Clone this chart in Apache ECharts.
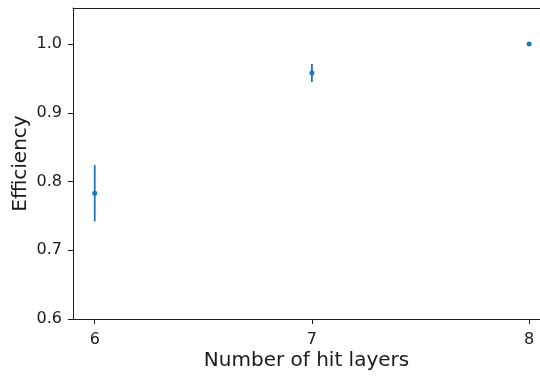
<!DOCTYPE html>
<html><head><meta charset="utf-8">
<script src="https://cdn.jsdelivr.net/npm/echarts@6/dist/echarts.min.js"></script>
<style>html,body{margin:0;padding:0;background:#fff}#c{width:540px;height:376px}</style>
</head><body><div id="c"></div>
<script>
var hitLayers = [6, 7, 8];
var efficiency = [0.783, 0.958, 1.0];
var errors = [0.041, 0.013, 0.0];
var yTicks = [0.6, 0.7, 0.8, 0.9, 1.0];

var chart = echarts.init(document.getElementById('c'));
var pts = hitLayers.map(function(x, i){ return [x, efficiency[i]]; });
var errData = hitLayers.map(function(x, i){ return [x, efficiency[i] - errors[i], efficiency[i] + errors[i]]; });
var font = 'DejaVu Sans';
var ink = '#1a1a1a';
chart.setOption({
  animation: false,
  grid: {left: 73, top: 8, right: 0, height: 311, show: false, containLabel: false},
  xAxis: [{
    type: 'value', min: 5.9, max: 8.05, position: 'bottom',
    axisLine: {show: true, onZero: false, lineStyle: {color: ink, width: 1}},
    axisTick: {show: true, length: 5, lineStyle: {color: ink}, customValues: hitLayers},
    axisLabel: {color: ink, fontFamily: font, fontSize: 16, margin: 13, customValues: hitLayers,
      formatter: function(v){ return String(v); }},
    splitLine: {show: false},
    name: 'Number of hit layers', nameLocation: 'middle', nameGap: 32, nameMoveOverlap: false,
    nameTextStyle: {color: ink, fontFamily: font, fontSize: 20}
  }, {
    type: 'value', min: 5.9, max: 8.05, position: 'top',
    axisLine: {show: true, onZero: false, lineStyle: {color: ink, width: 1}},
    axisTick: {show: false}, axisLabel: {show: false}, splitLine: {show: false}
  }],
  yAxis: {
    type: 'value', min: 0.6, max: 1.0525,
    axisLine: {show: true, onZero: false, lineStyle: {color: ink, width: 1}},
    axisTick: {show: true, length: 5, lineStyle: {color: ink}, customValues: yTicks},
    axisLabel: {color: ink, fontFamily: font, fontSize: 16, margin: 11, customValues: yTicks,
      formatter: function(v){ return v.toFixed(1); }},
    splitLine: {show: false},
    name: 'Efficiency', nameLocation: 'middle', nameGap: 42, nameMoveOverlap: false,
    nameTextStyle: {color: ink, fontFamily: font, fontSize: 20}
  },
  series: [
    {
      type: 'custom',
      data: errData,
      renderItem: function(params, api){
        var top = api.coord([api.value(0), api.value(2)]);
        var bot = api.coord([api.value(0), api.value(1)]);
        return {type: 'line', shape: {x1: top[0], y1: top[1], x2: bot[0], y2: bot[1]},
          style: {stroke: '#1f77b4', lineWidth: 1.8}};
      },
      z: 2
    },
    {
      type: 'scatter', data: pts, symbol: 'circle', symbolSize: 5,
      itemStyle: {color: '#1f77b4', opacity: 1}, z: 3
    }
  ]
});
</script></body></html>
